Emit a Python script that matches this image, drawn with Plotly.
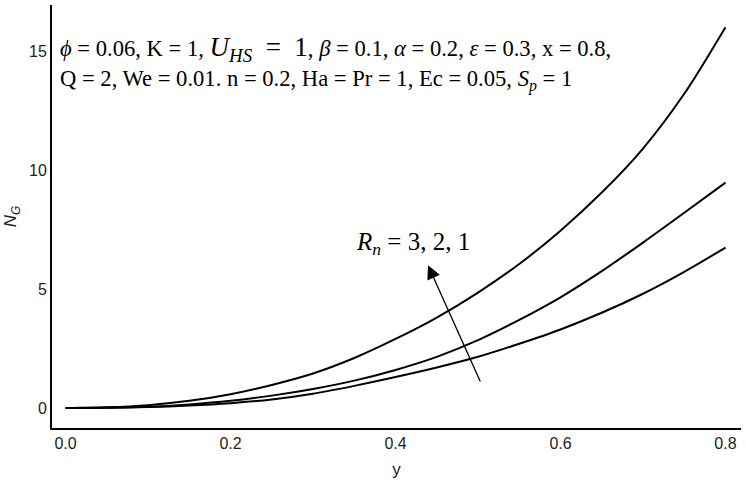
import plotly.graph_objects as go

# values
y_pos = [0.0, 0.05, 0.1, 0.15, 0.2, 0.25, 0.3, 0.35, 0.4, 0.45, 0.5, 0.55, 0.6, 0.65, 0.7, 0.75, 0.8]
ng_rn3 = [0.0, 0.03, 0.12, 0.3, 0.58, 0.97, 1.45, 2.1, 2.9, 3.8, 4.85, 6.05, 7.45, 9.05, 10.9, 13.2, 16.0]
ng_rn2 = [0.0, 0.01, 0.05, 0.15, 0.3, 0.52, 0.8, 1.15, 1.6, 2.15, 2.85, 3.7, 4.65, 5.75, 6.95, 8.2, 9.47]
ng_rn1 = [0.0, 0.01, 0.04, 0.1, 0.2, 0.36, 0.6, 0.93, 1.3, 1.7, 2.15, 2.7, 3.3, 4.0, 4.8, 5.72, 6.74]

series = {"R_n = 3": ng_rn3, "R_n = 2": ng_rn2, "R_n = 1": ng_rn1}

fig = go.Figure()
for name, vals in series.items():
    fig.add_trace(
        go.Scatter(
            x=y_pos,
            y=vals,
            mode="lines",
            name=name,
            line={"color": "black", "width": 2, "shape": "spline", "smoothing": 0.8},
            showlegend=False,
        )
    )

serif = "Liberation Serif, Times New Roman, serif"
sans = "Liberation Sans, Arial, sans-serif"

fig.add_annotation(
    x=-0.009, y=15.1, xref="x", yref="y", xanchor="left", yanchor="middle",
    text=("<i>ϕ</i> = 0.06, K = 1, <span style='font-size:27px'><i>U<sub>HS</sub></i>  =  1</span>, "
          "<i>β</i> = 0.1, <i>α</i> = 0.2, <i>ε</i> = 0.3, x = 0.8,"),
    showarrow=False, font={"family": serif, "size": 22.6, "color": "black"},
)
fig.add_annotation(
    x=-0.009, y=13.75, xref="x", yref="y", xanchor="left", yanchor="middle",
    text="Q = 2, We = 0.01. n = 0.2, Ha = Pr = 1, Ec = 0.05, <i>S<sub>p</sub></i> = 1",
    showarrow=False, font={"family": serif, "size": 22.6, "color": "black"},
)
fig.add_annotation(
    x=0.3497, y=6.93, xref="x", yref="y", xanchor="left", yanchor="middle",
    text="<i>R<sub>n</sub></i> = 3, 2, 1",
    showarrow=False, font={"family": serif, "size": 25, "color": "black"},
)
fig.add_annotation(
    x=0.4394, y=6.0, ax=0.5036, ay=1.05, xref="x", yref="y", axref="x", ayref="y",
    text="", showarrow=True, arrowhead=2, arrowsize=2.1, arrowwidth=1.3,
    arrowcolor="black", standoff=0,
)

fig.update_layout(
    width=746,
    height=486,
    margin={"l": 52, "r": 5, "t": 5, "b": 58},
    plot_bgcolor="white",
    paper_bgcolor="white",
    font={"family": sans, "size": 16, "color": "#222"},
    xaxis={
        "range": [-0.0164, 0.8188],
        "tickvals": [0.0, 0.2, 0.4, 0.6, 0.8],
        "ticktext": ["0.0", "0.2", "0.4", "0.6", "0.8"],
        "showgrid": False,
        "zeroline": False,
        "showline": True,
        "linecolor": "black",
        "linewidth": 2,
        "ticks": "",
        "automargin": False,
        "title": {"text": "y", "font": {"size": 17}, "standoff": 12},
    },
    yaxis={
        "range": [-0.84, 16.93],
        "tickvals": [0, 5, 10, 15],
        "showgrid": False,
        "zeroline": False,
        "showline": True,
        "linecolor": "black",
        "linewidth": 2,
        "ticks": "",
        "automargin": False,
        "title": {"text": "<i>N<sub>G</sub></i>", "font": {"size": 17}, "standoff": 8},
    },
)

fig.write_html(
    "out.html",
    config={"displayModeBar": False},
    post_script="document.body.style.margin = '0';",
)
